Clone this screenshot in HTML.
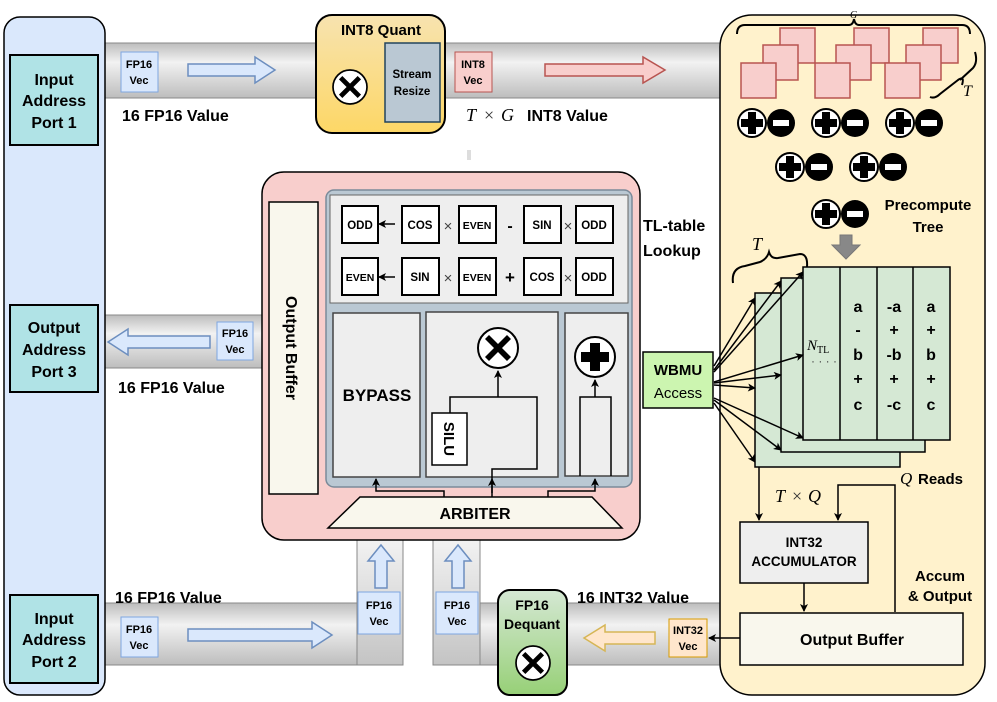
<!DOCTYPE html>
<html><head><meta charset="utf-8"><style>
body{margin:0;background:#fff}
svg{display:block;font-family:"Liberation Sans",Arial,sans-serif}
.b{font-weight:bold}
</style></head><body>
<svg width="997" height="702" viewBox="0 0 997 702" xmlns="http://www.w3.org/2000/svg">
<defs>
<linearGradient id="bus" x1="0" y1="0" x2="0" y2="1"><stop offset="0" stop-color="#bdbdbd"/><stop offset="0.35" stop-color="#f2f2f2"/><stop offset="1" stop-color="#bdbdbd"/></linearGradient>
<linearGradient id="busv" x1="0" y1="0" x2="0" y2="1"><stop offset="0" stop-color="#f2f2f2"/><stop offset="1" stop-color="#c4c4c4"/></linearGradient>
<linearGradient id="org" x1="0" y1="0" x2="0" y2="1"><stop offset="0" stop-color="#f7e3b0"/><stop offset="1" stop-color="#fdd766"/></linearGradient>
<linearGradient id="grn" x1="0" y1="0" x2="0" y2="1"><stop offset="0" stop-color="#d5e8d4"/><stop offset="1" stop-color="#97d077"/></linearGradient>
<marker id="ah" markerWidth="8" markerHeight="8" refX="7" refY="4" orient="auto" markerUnits="userSpaceOnUse"><path d="M0,0 L8,4 L0,8 L2,4 z" fill="#000"/></marker>
<g id="xc"><circle r="20" fill="#fff" stroke="#000" stroke-width="2"/><path d="M-9,-13 L0,-4 L9,-13 L13,-9 L4,0 L13,9 L9,13 L0,4 L-9,13 L-13,9 L-4,0 L-13,-9 z" fill="#000"/></g>
<g id="pc"><circle r="20" fill="#fff" stroke="#000" stroke-width="2"/><path d="M-5,-14 H5 V-5 H14 V5 H5 V14 H-5 V5 H-14 V-5 H-5 z" fill="#000"/></g>
<g id="pm"><circle cx="0" r="14" fill="#fff" stroke="#000" stroke-width="2"/><path d="M-4,-11 H4 V-4 H11 V4 H4 V11 H-4 V4 H-11 V-4 H-4 z" fill="#000"/><circle cx="29" r="14" fill="#000"/><rect x="21" y="-3" width="16" height="6" fill="#fff"/></g>
<g id="sq"><rect width="35" height="35" fill="#f8cecc" stroke="#b85450" stroke-width="1.5"/></g>
</defs>

<!-- buses -->
<rect x="100" y="43" width="625" height="55" fill="url(#bus)" stroke="#888"/>
<rect x="100" y="315" width="165" height="53" fill="url(#bus)" stroke="#888"/>
<rect x="100" y="603" width="303" height="62" fill="url(#bus)" stroke="#888"/>
<rect x="433" y="603" width="290" height="62" fill="url(#bus)" stroke="#888"/>
<rect x="357" y="540" width="46" height="125" fill="url(#busv)" stroke="#888"/>
<rect x="433" y="540" width="47" height="125" fill="url(#busv)" stroke="#888"/>

<!-- left panel -->
<rect x="4" y="17" width="101" height="678" rx="16" fill="#dae8fc" stroke="#000" stroke-width="1.5"/>
<rect x="10" y="55" width="88" height="90" fill="#b0e3e6" stroke="#000" stroke-width="2"/>
<text class="b" font-size="16" text-anchor="middle"><tspan x="54" y="85">Input</tspan><tspan x="54" y="106">Address</tspan><tspan x="54" y="128">Port 1</tspan></text>
<rect x="10" y="305" width="88" height="87" fill="#b0e3e6" stroke="#000" stroke-width="2"/>
<text class="b" font-size="16" text-anchor="middle"><tspan x="54" y="333">Output</tspan><tspan x="54" y="355">Address</tspan><tspan x="54" y="377">Port 3</tspan></text>
<rect x="10" y="595" width="88" height="88" fill="#b0e3e6" stroke="#000" stroke-width="2"/>
<text class="b" font-size="16" text-anchor="middle"><tspan x="54" y="624">Input</tspan><tspan x="54" y="645">Address</tspan><tspan x="54" y="667">Port 2</tspan></text>

<!-- top bus contents -->
<rect x="121" y="52" width="37" height="40" fill="#dae8fc" stroke="#7ea6e0"/>
<text class="b" font-size="11" text-anchor="middle"><tspan x="139" y="68">FP16</tspan><tspan x="139" y="84">Vec</tspan></text>
<path d="M188,64 H255 V57 L275,70 L255,83 V76 H188 z" fill="#dae8fc" stroke="#6c8ebf" stroke-width="1.5"/>
<text class="b" font-size="16" x="122" y="121">16 FP16 Value</text>
<rect x="316" y="15" width="129" height="118" rx="16" fill="url(#org)" stroke="#000" stroke-width="2"/>
<text class="b" font-size="15" x="381" y="35" text-anchor="middle">INT8 Quant</text>
<rect x="385" y="43" width="55" height="79" fill="#bac8d3" stroke="#23445d" stroke-width="1.5"/>
<text class="b" font-size="11.5" text-anchor="middle"><tspan x="412" y="78">Stream</tspan><tspan x="412" y="95">Resize</tspan></text>
<g transform="translate(350,87) scale(0.85)"><use href="#xc"/></g>
<rect x="455" y="52" width="37" height="40" fill="#f8cecc" stroke="#b85450"/>
<text class="b" font-size="11" text-anchor="middle"><tspan x="473" y="68">INT8</tspan><tspan x="473" y="84">Vec</tspan></text>
<path d="M545,64 H643 V57 L665,70 L643,83 V76 H545 z" fill="#f8cecc" stroke="#b85450" stroke-width="1.5"/>
<g font-size="18" font-family="Liberation Serif,serif"><text x="466" y="121" font-style="italic">T</text><text x="484" y="121" fill="#333">×</text><text x="501" y="121" font-style="italic">G</text></g>
<text class="b" font-size="16" x="527" y="121">INT8 Value</text>
<rect x="467" y="150" width="4" height="10" fill="#ddd"/>

<!-- port3 bus -->
<path d="M210,336 H128 V329 L108,342 L128,355 V348 H210 z" fill="#dae8fc" stroke="#6c8ebf" stroke-width="1.5"/>
<rect x="217" y="322" width="36" height="38" fill="#dae8fc" stroke="#7ea6e0"/>
<text class="b" font-size="11" text-anchor="middle"><tspan x="235" y="337">FP16</tspan><tspan x="235" y="353">Vec</tspan></text>
<text class="b" font-size="16" x="118" y="393">16 FP16 Value</text>

<!-- bottom buses -->
<text class="b" font-size="16" x="115" y="603">16 FP16 Value</text>
<rect x="121" y="617" width="37" height="40" fill="#dae8fc" stroke="#7ea6e0"/>
<text class="b" font-size="11" text-anchor="middle"><tspan x="139" y="633">FP16</tspan><tspan x="139" y="649">Vec</tspan></text>
<path d="M188,629 H312 V622 L332,635 L312,648 V641 H188 z" fill="#dae8fc" stroke="#6c8ebf" stroke-width="1.5"/>
<path d="M375,588 V561 H368 L381,545 L394,561 H387 V588 z" fill="#dae8fc" stroke="#6c8ebf" stroke-width="1.5"/>
<path d="M452,588 V561 H445 L458,545 L471,561 H464 V588 z" fill="#dae8fc" stroke="#6c8ebf" stroke-width="1.5"/>
<rect x="358" y="592" width="42" height="42" fill="#dae8fc" stroke="#7ea6e0"/>
<text class="b" font-size="11" text-anchor="middle"><tspan x="379" y="609">FP16</tspan><tspan x="379" y="625">Vec</tspan></text>
<rect x="436" y="592" width="42" height="42" fill="#dae8fc" stroke="#7ea6e0"/>
<text class="b" font-size="11" text-anchor="middle"><tspan x="457" y="609">FP16</tspan><tspan x="457" y="625">Vec</tspan></text>
<rect x="498" y="590" width="69" height="105" rx="12" fill="url(#grn)" stroke="#000" stroke-width="2"/>
<text class="b" font-size="14" text-anchor="middle"><tspan x="532" y="610">FP16</tspan><tspan x="532" y="629">Dequant</tspan></text>
<g transform="translate(533,663) scale(0.85)"><use href="#xc"/></g>
<text class="b" font-size="16" x="577" y="603">16 INT32 Value</text>
<path d="M655,632 H605 V625 L584,638 L605,651 V644 H655 z" fill="#ffe6cc" stroke="#d6b656" stroke-width="1.5"/>
<rect x="669" y="619" width="38" height="38" fill="#ffe6cc" stroke="#d79b00"/>
<text class="b" font-size="11" text-anchor="middle"><tspan x="688" y="634">INT32</tspan><tspan x="688" y="650">Vec</tspan></text>

<!-- main pink block -->
<rect x="262" y="172" width="378" height="368" rx="22" fill="#f8cecc" stroke="#000" stroke-width="1.5"/>
<rect x="269" y="202" width="49" height="292" fill="#f9f7ed" stroke="#000" stroke-width="1.5"/>
<text class="b" font-size="16" transform="translate(286,348) rotate(90)" text-anchor="middle">Output Buffer</text>
<rect x="326" y="190" width="306" height="297" rx="8" fill="#bac8d3" stroke="#7a8a99" stroke-width="1.5"/>
<rect x="330" y="195" width="298" height="108" fill="#eeeeee" stroke="#666"/>
<g fill="#fff" stroke="#000" stroke-width="2">
<rect x="342" y="206" width="36" height="37"/><rect x="402" y="206" width="37" height="37"/><rect x="459" y="206" width="37" height="37"/><rect x="524" y="206" width="37" height="37"/><rect x="576" y="206" width="37" height="37"/>
<rect x="342" y="258" width="36" height="37"/><rect x="402" y="258" width="37" height="37"/><rect x="459" y="258" width="37" height="37"/><rect x="524" y="258" width="37" height="37"/><rect x="576" y="258" width="37" height="37"/>
</g>
<g font-size="11.5" font-weight="bold" text-anchor="middle">
<text x="360" y="229">ODD</text><text x="420" y="229">COS</text><text x="477" y="229" font-size="10.5">EVEN</text><text x="542" y="229">SIN</text><text x="594" y="229">ODD</text>
<text x="360" y="281" font-size="10.5">EVEN</text><text x="420" y="281">SIN</text><text x="477" y="281" font-size="10.5">EVEN</text><text x="542" y="281">COS</text><text x="594" y="281">ODD</text>
<text x="510" y="231" font-size="16">-</text><text x="510" y="283" font-size="17">+</text>
</g>
<g font-size="15" fill="#444" text-anchor="middle"><text x="448" y="231">×</text><text x="568" y="231">×</text><text x="448" y="283">×</text><text x="568" y="283">×</text></g>
<line x1="395" y1="224" x2="379" y2="224" stroke="#000" stroke-width="1.5" marker-end="url(#ah)"/>
<line x1="395" y1="277" x2="379" y2="277" stroke="#000" stroke-width="1.5" marker-end="url(#ah)"/>
<text class="b" font-size="16" x="643" y="231">TL-table</text>
<text class="b" font-size="16" x="643" y="256">Lookup</text>

<rect x="333" y="313" width="87" height="164" fill="#eeeeee" stroke="#444" stroke-width="1.5"/>
<text class="b" font-size="17" x="377" y="401" text-anchor="middle">BYPASS</text>
<rect x="426" y="312" width="132" height="165" fill="#eeeeee" stroke="#444" stroke-width="1.5"/>
<g transform="translate(498,348)"><use href="#xc"/></g>
<rect x="432" y="413" width="35" height="52" fill="#fff" stroke="#000" stroke-width="1.5"/>
<text class="b" font-size="15" transform="translate(444,439) rotate(90)" text-anchor="middle">SILU</text>
<path d="M450,413 V397 H537 V469 H492 V493" fill="none" stroke="#000" stroke-width="1.5"/>
<line x1="498" y1="397" x2="498" y2="371" stroke="#000" stroke-width="1.5" marker-end="url(#ah)"/>
<rect x="565" y="313" width="63" height="163" fill="#eeeeee" stroke="#444" stroke-width="1.5"/>
<g transform="translate(595,357)"><use href="#pc"/></g>
<path d="M580,476 V397 H611 V476" fill="none" stroke="#000" stroke-width="1.5"/>
<line x1="595" y1="397" x2="595" y2="380" stroke="#000" stroke-width="1.5" marker-end="url(#ah)"/>
<path d="M444,497 V491 H376 V479" fill="none" stroke="#000" stroke-width="1.5" marker-end="url(#ah)"/>
<line x1="492" y1="497" x2="492" y2="479" stroke="#000" stroke-width="1.5" marker-end="url(#ah)"/>
<path d="M548,497 V491 H595 V479" fill="none" stroke="#000" stroke-width="1.5" marker-end="url(#ah)"/>
<path d="M360,497 H592 L622,528 H328 z" fill="#f9f7ed" stroke="#000" stroke-width="1.5"/>
<text class="b" font-size="16" x="475" y="519" text-anchor="middle">ARBITER</text>

<!-- right panel -->
<rect x="720" y="15" width="265" height="680" rx="32" fill="#fff2cc" stroke="#000" stroke-width="1.5"/>
<use href="#sq" x="780" y="28"/><use href="#sq" x="763" y="45"/><use href="#sq" x="741" y="63"/>
<use href="#sq" x="854" y="28"/><use href="#sq" x="836" y="45"/><use href="#sq" x="815" y="63"/>
<use href="#sq" x="923" y="28"/><use href="#sq" x="906" y="45"/><use href="#sq" x="885" y="63"/>
<path d="M737,34 Q737,25 745,25 H849 Q853,25 854,19 Q855,25 859,25 H962 Q970,25 970,34" fill="none" stroke="#000" stroke-width="2"/>
<text font-size="10" font-family="Liberation Serif,serif" font-style="italic" x="850" y="18">G</text>
<path d="M930,97 Q935,99 940,94 L958,80 Q965,75 962,85 M960,80 L973,68 Q978,62 975,52" fill="none" stroke="#000" stroke-width="2"/>
<text font-size="16" font-family="Liberation Serif,serif" font-style="italic" x="963" y="96">T</text>
<use href="#pm" x="752" y="123"/><use href="#pm" x="826" y="123"/><use href="#pm" x="900" y="123"/>
<use href="#pm" x="790" y="167"/><use href="#pm" x="864" y="167"/>
<use href="#pm" x="826" y="214"/>
<text class="b" font-size="15" text-anchor="middle"><tspan x="928" y="210">Precompute</tspan><tspan x="928" y="232">Tree</tspan></text>
<path d="M840,235 H852 V245 H860 L846,259 L832,245 H840 z" fill="#888" stroke="#777"/>

<path d="M733,283 Q731,268 745,266 L760,262 Q767,259 769,252 Q771,259 778,258 L800,254 Q808,254 807,267" fill="none" stroke="#000" stroke-width="2"/>
<text font-size="18" font-family="Liberation Serif,serif" font-style="italic" x="752" y="250">T</text>
<rect x="755" y="293" width="145" height="174" fill="#d5e8d4" stroke="#000" stroke-width="1.5"/>
<rect x="781" y="278" width="144" height="174" fill="#d5e8d4" stroke="#000" stroke-width="1.5"/>
<rect x="803" y="267" width="147" height="173" fill="#d5e8d4" stroke="#000" stroke-width="1.5"/>
<line x1="840" y1="267" x2="840" y2="440" stroke="#000" stroke-width="1.5"/>
<line x1="877" y1="267" x2="877" y2="440" stroke="#000" stroke-width="1.5"/>
<line x1="913" y1="267" x2="913" y2="440" stroke="#000" stroke-width="1.5"/>
<g font-size="16" font-weight="bold" text-anchor="middle">
<text x="858" y="312">a</text><text x="858" y="335">-</text><text x="858" y="360">b</text><text x="858" y="384">+</text><text x="858" y="410">c</text>
<text x="894" y="312">-a</text><text x="894" y="335">+</text><text x="894" y="360">-b</text><text x="894" y="384">+</text><text x="894" y="410">-c</text>
<text x="931" y="312">a</text><text x="931" y="335">+</text><text x="931" y="360">b</text><text x="931" y="384">+</text><text x="931" y="410">c</text>
</g>
<text font-size="15" font-family="Liberation Serif,serif" x="807" y="350"><tspan font-style="italic">N</tspan><tspan font-size="10" dy="3">TL</tspan></text>
<text font-size="12" x="811" y="365" fill="#444">· · · ·</text>

<rect x="643" y="352" width="70" height="56" fill="#ccf5b0" stroke="#000" stroke-width="1.5"/>
<text font-size="15" text-anchor="middle"><tspan x="678" y="375" font-weight="bold">WBMU</tspan><tspan x="678" y="398">Access</tspan></text>
<g stroke="#000" stroke-width="1.5" marker-end="url(#ah)">
<line x1="714" y1="366" x2="755" y2="298"/><line x1="714" y1="370" x2="781" y2="281"/><line x1="714" y1="372" x2="803" y2="272"/>
<line x1="714" y1="382" x2="803" y2="355"/><line x1="714" y1="383" x2="781" y2="375"/><line x1="714" y1="385" x2="755" y2="388"/>
<line x1="714" y1="398" x2="803" y2="438"/><line x1="714" y1="400" x2="781" y2="450"/><line x1="714" y1="403" x2="755" y2="462"/>
</g>

<line x1="759" y1="467" x2="759" y2="520" stroke="#000" stroke-width="1.5" marker-end="url(#ah)"/>
<g font-size="18" font-family="Liberation Serif,serif"><text x="775" y="502" font-style="italic">T</text><text x="792" y="502" fill="#333">×</text><text x="808" y="502" font-style="italic">Q</text></g>
<path d="M895,612 V485 H838 V520" fill="none" stroke="#000" stroke-width="1.5" marker-end="url(#ah)"/>
<text font-size="17" font-family="Liberation Serif,serif" font-style="italic" x="900" y="484">Q</text>
<text class="b" font-size="15" x="918" y="484">Reads</text>
<rect x="740" y="522" width="128" height="61" fill="#eeeeee" stroke="#000" stroke-width="1.5"/>
<text class="b" font-size="13.5" text-anchor="middle"><tspan x="804" y="547">INT32</tspan><tspan x="804" y="566">ACCUMULATOR</tspan></text>
<line x1="804" y1="583" x2="804" y2="611" stroke="#000" stroke-width="1.5" marker-end="url(#ah)"/>
<text class="b" font-size="15" text-anchor="middle"><tspan x="940" y="581">Accum</tspan><tspan x="940" y="601">&amp; Output</tspan></text>
<rect x="740" y="613" width="223" height="52" fill="#f9f7ed" stroke="#000" stroke-width="1.5"/>
<text class="b" font-size="16" x="852" y="645" text-anchor="middle">Output Buffer</text>
<line x1="740" y1="638" x2="709" y2="638" stroke="#000" stroke-width="1.5" marker-end="url(#ah)"/>
</svg>
</body></html>
